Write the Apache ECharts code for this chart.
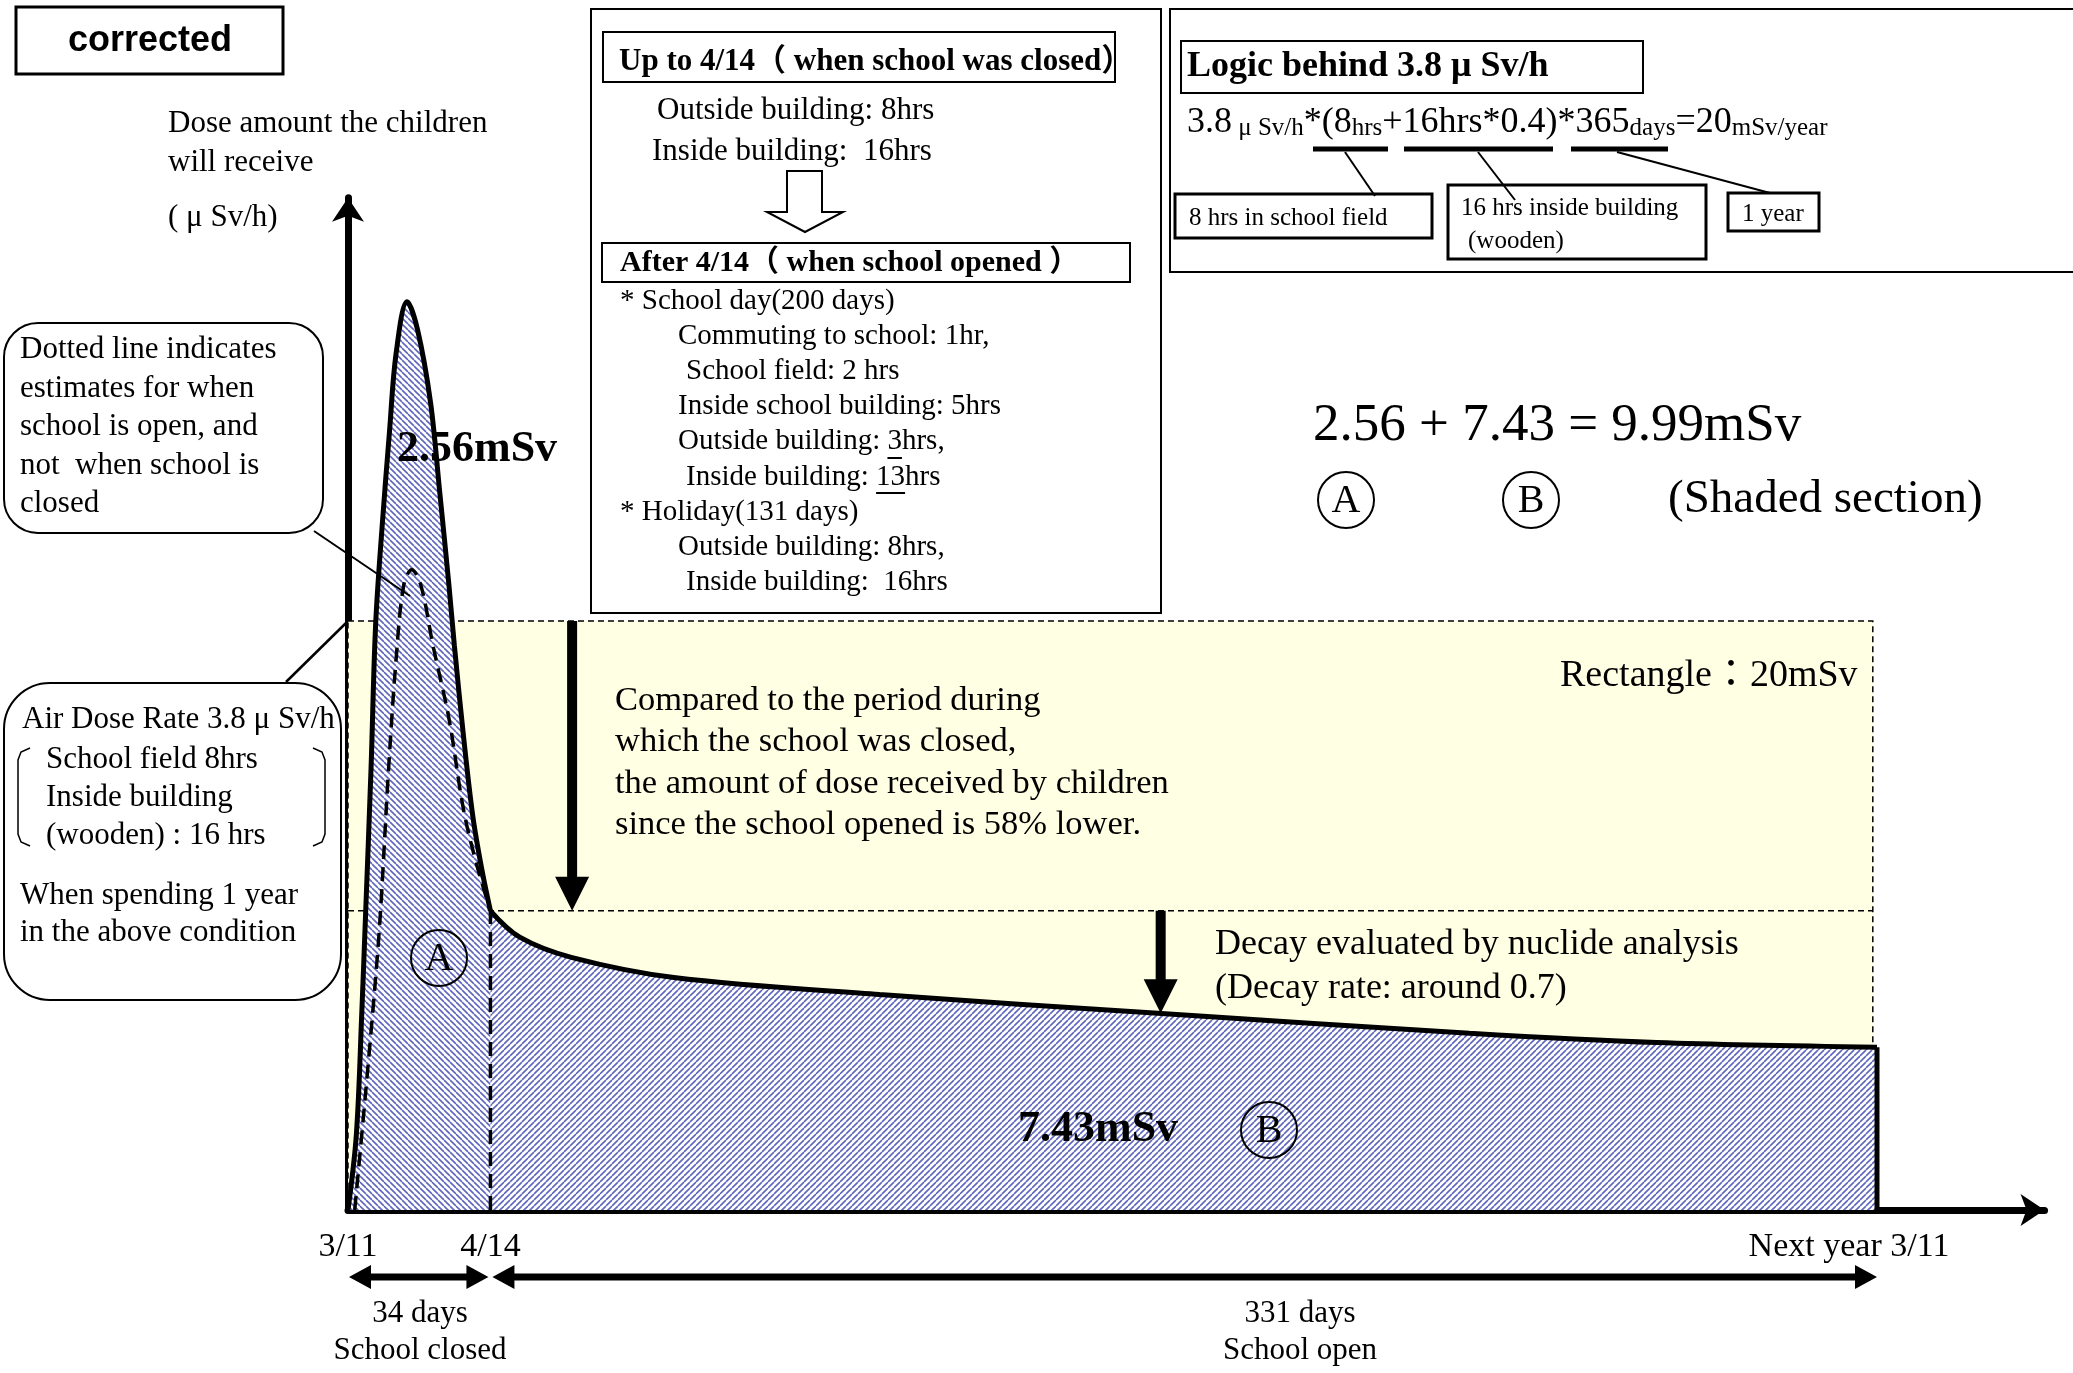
<!DOCTYPE html>
<html>
<head>
<meta charset="utf-8">
<script src="https://cdn.jsdelivr.net/npm/echarts@6.0.0/dist/echarts.min.js"></script>
<style>
html, body { margin: 0; padding: 0; background: #fff; }
#main { width: 2073px; height: 1373px; }
</style>
</head>
<body>
<div id="main"></div>
<script>
var myChart = echarts.init(document.getElementById('main'), null, {renderer: 'canvas'});

// x = days after 3/11, y = air dose rate (μSv/h)
var tickDays = [0, 34, 365];
var tickLabels = ['3/11', '4/14', 'Next year 3/11'];

// solid curve while school was closed (area A)
var closedDays = [0, 2.0, 3.3, 4.2, 5.5, 6.6, 8.2, 9.9, 11.5, 14.1, 16.6, 19.7, 21.9, 24.1, 25.4, 27.6, 29.8, 32.0, 34];
var closedRate = [0, 0.49, 1.28, 1.91, 2.85, 3.78, 4.43, 5.02, 5.53, 5.86, 5.68, 5.21, 4.63, 4.03, 3.64, 3.05, 2.54, 2.19, 1.93];
// solid curve after school opened (area B)
var openDays = [34, 41, 53.3, 77.8, 126.9, 193.3, 267.7, 312.4, 365];
var openRate = [1.93, 1.76, 1.63, 1.50, 1.39, 1.27, 1.14, 1.08, 1.05];
// dashed estimate (as if school had been open)
var estimateDays = [1.6, 7.1, 9.7, 11.5, 13.3, 15.2, 17.4, 20.3, 24.1, 27.6, 30.7, 34];
var estimateRate = [0, 1.67, 2.85, 3.56, 4.03, 4.13, 4.03, 3.64, 3.17, 2.58, 2.23, 1.93];

var airDoseRate = 3.8;   // rectangle = 20mSv
var rectEndDay = 364;
var openLevel = 1.93;    // lower dashed line
var dropArrowDay = 53.5;
var decayArrowDay = 194, decayArrowRate = 1.27;

var SERIF = '"Liberation Serif", "Noto Sans CJK JP", serif';
var SANS = '"Liberation Sans", Arial, sans-serif';

function pairs(xs, ys) {
    return xs.map(function (x, i) { return [x, ys[i]]; });
}

// diagonal hatch, dir 1 = '/', -1 = '\'
function hatch(dir) {
    var s = 6;
    var c = document.createElement('canvas');
    c.width = s; c.height = s;
    var g = c.getContext('2d');
    g.fillStyle = '#ffffff';
    g.fillRect(0, 0, s, s);
    g.strokeStyle = '#5f67bc';
    g.lineWidth = 1.6;
    g.beginPath();
    for (var k = -s; k <= s; k += s) {
        if (dir > 0) { g.moveTo(k, s); g.lineTo(k + s, 0); }
        else { g.moveTo(k, 0); g.lineTo(k + s, s); }
    }
    g.stroke();
    return c;
}

option = {
    animation: false,
    backgroundColor: '#ffffff',
    grid: {left: 348, right: 28.44, top: 197.85, bottom: 163},
    xAxis: {
        type: 'value', min: 0, max: 405,
        splitLine: {show: false},
        axisTick: {show: false},
        axisLine: {show: true, symbol: ['none', 'arrow'], symbolSize: [24, 24],
            lineStyle: {color: '#000', width: 7}},
        axisLabel: {
            customValues: tickDays,
            margin: 20,
            color: '#000', fontSize: 34, fontFamily: SERIF,
            formatter: function (v) {
                var i = tickDays.indexOf(v);
                if (i < 0) return '';
                if (v === 365) return '{e|' + tickLabels[i] + '}';
                return tickLabels[i];
            },
            rich: {e: {fontSize: 34, fontFamily: SERIF, color: '#000', padding: [0, 56, 0, 0]}}
        }
    },
    yAxis: {
        type: 'value', min: 0, max: 6.53,
        splitLine: {show: false},
        axisTick: {show: false},
        axisLabel: {show: false},
        axisLine: {show: true, symbol: ['none', 'arrow'], symbolSize: [24, 24],
            lineStyle: {color: '#000', width: 7}}
    },
    series: [
        {
            name: 'rect', type: 'line', z: 1, silent: true, symbol: 'none',
            data: [[0, airDoseRate]], lineStyle: {opacity: 0},
            markArea: {
                silent: true,
                itemStyle: {color: '#ffffe3', borderColor: '#000', borderWidth: 1.5, borderType: [6, 4]},
                data: [[{coord: [0, airDoseRate]}, {coord: [rectEndDay, 0]}]]
            }
        },
        {
            name: 'level', type: 'line', z: 2, silent: true, symbol: 'none',
            data: [[0, openLevel], [rectEndDay, openLevel]],
            lineStyle: {color: '#000', width: 1.5, type: [6, 4]}
        },
        {
            name: 'A', type: 'line', z: 3, symbol: 'none', smooth: 0.35,
            data: pairs(closedDays, closedRate),
            lineStyle: {color: '#000', width: 5},
            areaStyle: {color: {image: hatch(-1), repeat: 'repeat'}, opacity: 1}
        },
        {
            name: 'B', type: 'line', z: 3, symbol: 'none', smooth: 0.35,
            data: pairs(openDays, openRate),
            lineStyle: {color: '#000', width: 5},
            areaStyle: {color: {image: hatch(1), repeat: 'repeat'}, opacity: 1}
        },
        {
            name: 'end', type: 'line', z: 4, symbol: 'none',
            data: [[365, openRate[openRate.length - 1]], [365, 0]],
            lineStyle: {color: '#000', width: 5}
        },
        {
            name: 'estimate', type: 'line', z: 4, symbol: 'none', smooth: 0.35,
            data: pairs(estimateDays, estimateRate),
            lineStyle: {color: '#000', width: 3.5, type: [14, 8]}
        },
        {
            name: 'split', type: 'line', z: 4, symbol: 'none',
            data: [[34, 0], [34, openLevel]],
            lineStyle: {color: '#000', width: 3.5, type: [14, 8]}
        }
    ]
};
myChart.setOption(option);

// ---------- annotations ----------
var G = [];
var mctx = document.createElement('canvas').getContext('2d');
function textW(s, font) { mctx.font = font; return mctx.measureText(s).width; }

function box(x, y, w, h, lw, r, fill) {
    G.push({type: 'rect', z: 50, shape: {x: x, y: y, width: w, height: h, r: r || 0},
        style: {fill: fill === undefined ? '#fff' : fill, stroke: '#000', lineWidth: lw}});
}
function text(x, y, s, size, o) {
    o = o || {};
    G.push({type: 'text', z: 60, style: {text: s, x: x, y: y,
        font: (o.bold ? 'bold ' : '') + size + 'px ' + (o.family || SERIF),
        fill: '#000', align: o.align || 'left', verticalAlign: 'middle'}});
}
function seg(x1, y1, x2, y2, lw) {
    G.push({type: 'line', z: 55, shape: {x1: x1, y1: y1, x2: x2, y2: y2},
        style: {stroke: '#000', lineWidth: lw}});
}
function circled(cx, cy, r, letter) {
    G.push({type: 'circle', z: 58, shape: {cx: cx, cy: cy, r: r},
        style: {fill: 'none', stroke: '#000', lineWidth: 2}});
    text(cx, cy + 1, letter, 40, {align: 'center'});
}
function arrow(p1, p2, shaft, headW, headL, both) {
    var dx = p2[0] - p1[0], dy = p2[1] - p1[1];
    var len = Math.sqrt(dx * dx + dy * dy);
    var ux = dx / len, uy = dy / len, nx = -uy, ny = ux;
    function pt(t, s) { return [p1[0] + ux * t + nx * s, p1[1] + uy * t + ny * s]; }
    var a = headL, b = len - headL, pts = [];
    if (both) pts.push(pt(0, 0), pt(a, headW / 2), pt(a, shaft / 2));
    else pts.push(pt(0, shaft / 2));
    pts.push(pt(b, shaft / 2), pt(b, headW / 2), pt(len, 0), pt(b, -headW / 2), pt(b, -shaft / 2));
    if (both) pts.push(pt(a, -shaft / 2), pt(a, -headW / 2));
    else pts.push(pt(0, -shaft / 2));
    G.push({type: 'polygon', z: 45, shape: {points: pts}, style: {fill: '#000'}});
}
function px(d, v) { return myChart.convertToPixel({gridIndex: 0}, [d, v]); }

// "corrected" tag
box(16, 7, 267, 67, 3);
text(150, 41, 'corrected', 36, {bold: true, family: SANS, align: 'center'});

// y axis title
text(168, 124, 'Dose amount the children', 31);
text(168, 163, 'will receive', 31);
text(168, 218, '( μ Sv/h)', 31);

// dotted line note
box(4, 323, 319, 210, 2, 34);
['Dotted line indicates', 'estimates for when', 'school is open, and', 'not  when school is', 'closed']
    .forEach(function (s, i) { text(20, 350 + i * 38.5, s, 31); });
seg(314, 531, 410, 596, 2);

// air dose note
box(4, 683, 337, 317, 2, 46);
text(22, 720, 'Air Dose Rate 3.8 μ Sv/h', 31);
text(46, 760, 'School field 8hrs', 31);
text(46, 798, 'Inside building', 31);
text(46, 836, '(wooden) : 16 hrs', 31);
text(20, 896, 'When spending 1 year', 31);
text(20, 933, 'in the above condition', 31);
G.push({type: 'polyline', z: 55, shape: {points: [[30, 748], [21, 752], [18, 760], [18, 834], [21, 842], [30, 846]]},
    style: {stroke: '#000', lineWidth: 1.5, fill: null}});
G.push({type: 'polyline', z: 55, shape: {points: [[313, 748], [322, 752], [325, 760], [325, 834], [322, 842], [313, 846]]},
    style: {stroke: '#000', lineWidth: 1.5, fill: null}});
seg(286, 682, 346, 623, 2.5);

// school schedule box
box(591, 9, 570, 604, 2);
box(603, 32, 512, 50, 2);
text(619, 62, 'Up to 4/14（ when school was closed）', 31, {bold: true});
text(657, 111, 'Outside building: 8hrs', 31);
text(652, 152, 'Inside building:  16hrs', 31);
G.push({type: 'polygon', z: 55, shape: {points: [[787, 171], [822, 171], [822, 212], [843, 212], [805, 232], [767, 212], [787, 212]]},
    style: {fill: '#fff', stroke: '#000', lineWidth: 2}});
box(602, 243, 528, 39, 2);
text(620, 263, 'After 4/14（ when school opened ）', 30, {bold: true});
var listFont = '29px ' + SERIF;
var listRows = [
    [620, '* School day(200 days)'],
    [678, 'Commuting to school: 1hr,'],
    [686, 'School field: 2 hrs'],
    [678, 'Inside school building: 5hrs'],
    [678, 'Outside building: 3hrs,'],
    [686, 'Inside building: 13hrs'],
    [620, '* Holiday(131 days)'],
    [678, 'Outside building: 8hrs,'],
    [686, 'Inside building:  16hrs']
];
listRows.forEach(function (r, i) { text(r[0], 301 + i * 35.2, r[1], 29); });
var u1 = 678 + textW('Outside building: ', listFont);
seg(u1, 458, u1 + textW('3', listFont), 458, 2);
var u2 = 686 + textW('Inside building: ', listFont);
seg(u2, 493, u2 + textW('13', listFont), 493, 2);

// logic box
box(1170, 9, 920, 263, 2);
box(1181, 41, 462, 52, 2);
text(1187, 67, 'Logic behind 3.8 μ Sv/h', 36, {bold: true});
G.push({type: 'text', z: 60, style: {
    x: 1187, y: 123, verticalAlign: 'middle', align: 'left',
    text: '{b|3.8}{s| μ Sv/h}{b|*(8}{s|hrs}{b|+16hrs*0.4)*365}{s|days}{b|=20}{s|mSv/year}',
    rich: {
        b: {fontSize: 36, fontFamily: SERIF, fill: '#000', verticalAlign: 'bottom'},
        s: {fontSize: 25, fontFamily: SERIF, fill: '#000', verticalAlign: 'bottom'}
    }
}});
seg(1313, 149, 1388, 149, 5);
seg(1404, 149, 1553, 149, 5);
seg(1571, 149, 1668, 149, 5);
seg(1345, 152, 1375, 196, 2);
seg(1478, 152, 1515, 200, 2);
seg(1617, 152, 1770, 193, 2);
box(1175, 194, 257, 44, 3);
text(1189, 218, '8 hrs in school field', 25);
box(1448, 185, 258, 74, 3);
text(1461, 208, '16 hrs inside building', 25);
text(1468, 241, '(wooden)', 25);
box(1728, 193, 91, 38, 3);
text(1742, 214, '1 year', 25);

// totals
text(1313, 426, '2.56 + 7.43 = 9.99mSv', 53);
circled(1346, 500, 28, 'A');
circled(1531, 500, 28, 'B');
text(1668, 500, '(Shaded section)', 47);

// in-plot labels
text(397, 450, '2.56mSv', 44, {bold: true});
circled(439, 958, 28, 'A');
text(1018, 1130, '7.43mSv', 44, {bold: true});
circled(1269, 1130, 28, 'B');
['Compared to the period during', 'which the school was closed,',
 'the amount of dose received by children', 'since the school opened is 58% lower.']
    .forEach(function (s, i) { text(615, 701 + i * 41.3, s, 34.5); });
text(1560, 676, 'Rectangle：20mSv', 38);
text(1215, 945, 'Decay evaluated by nuclide analysis', 36);
text(1215, 989, '(Decay rate: around 0.7)', 36);

// arrows tied to the data scale
arrow(px(dropArrowDay, airDoseRate), px(dropArrowDay, openLevel), 10, 34, 34, false);
arrow(px(decayArrowDay, openLevel), px(decayArrowDay, decayArrowRate), 10, 34, 34, false);
var p0 = px(0, 0), p34 = px(34, 0), p365 = px(365, 0);
arrow([p0[0] + 1, 1277], [p34[0] - 2, 1277], 7, 24, 22, true);
arrow([p34[0] + 2, 1277], [p365[0], 1277], 7, 24, 22, true);

// period captions
text(420, 1314, '34 days', 31, {align: 'center'});
text(420, 1351, 'School closed', 31, {align: 'center'});
text(1300, 1314, '331 days', 31, {align: 'center'});
text(1300, 1351, 'School open', 31, {align: 'center'});

myChart.setOption({graphic: {elements: G}});
</script>
</body>
</html>
